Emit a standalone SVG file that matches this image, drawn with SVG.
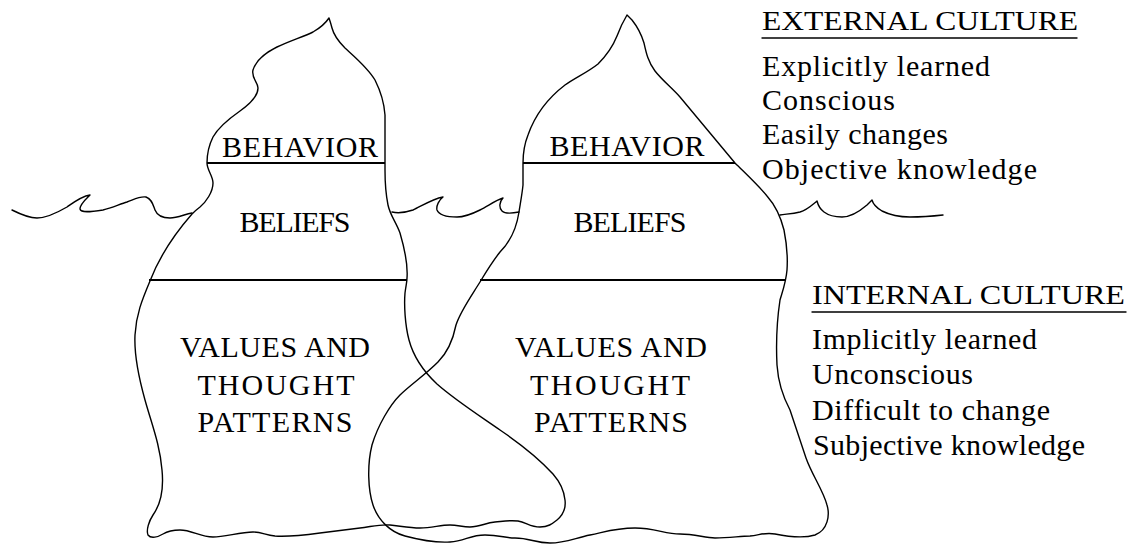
<svg xmlns="http://www.w3.org/2000/svg" width="1131" height="545" viewBox="0 0 1131 545">
<style>
.ln{fill:none;stroke:#000;stroke-width:1.4;stroke-linejoin:round;stroke-linecap:round}
.hl{fill:none;stroke:#000;stroke-width:1.8}
.lb{font-family:"Liberation Serif","Times New Roman",serif;font-size:30px;fill:#000;text-anchor:middle}
.tx{font-family:"Liberation Serif","Times New Roman",serif;font-size:30px;fill:#000}
.hd{font-family:"Liberation Serif","Times New Roman",serif;font-size:27px;fill:#000}
</style>
<rect width="1131" height="545" fill="#fff"/>
<g id="water">
<path class="ln" d="M12,210 C18,213 28,218 37,218 C46,218 55,214 67,207 C74,202 82,196 90,195 C86,199 80,204 80,209 C81,213 90,212 103,210 C112,208 120,204 127,202 C135,199 140,196 146,197 C152,199 153,205 155,210 C157,215 162,218 170,218 C178,218 185,214 192,213"/>
<path class="ln" d="M392,212 C396,213 404,213 413,210 C420,207 432,199 443,197 C439,200 436,206 437,210 C439,215 447,217 457,217 C465,217 472,214 480,210 C488,206 496,200 503,198 C499,202 499,208 502,211 C505,214 514,213 519,212"/>
<path class="ln" d="M780,215 C786,214 792,214 800,212 C807,210 812,205 817,201 C818,205 820,209 824,212 C828,215 834,217 842,217 C850,217 860,211 867,205 C869,203 871,201 872,200 C873,204 877,208 882,211 C890,215 898,217 910,217 C922,217 934,216 943,215"/>
</g>
<g id="iceberg-left">
<path class="ln" d="M329,18 C325,24 320,28 313,32 C305,36 290,41 277,47 C265,53 256,60 253,70 C251,78 258,82 258,88 C258,96 250,104 240,111 C230,118 218,128 213,137 C209,145 207,153 207,163 C207,170 213,176 213,183 C213,192 206,202 200,207 C196,210 194,212 192,214 C178,230 160,255 150,281 C142,300 136,315 135,335 C134,355 138,375 145,400 C152,425 160,445 162,470 C164,490 160,505 153,515 C149,521 146,530 148,535 C151,539 158,537 163,534 C168,531 172,530 180,530 C192,530 200,537 213,537 C225,537 240,532 253,532 C262,532 265,535 275,536 C290,537 305,535 320,533 C335,531 345,530 360,528 C370,527 380,524 390,525 C400,526 410,528 420,528 C432,528 440,525 450,525 C458,525 462,527 470,527 C480,527 485,523 495,522 C505,521 510,520 518,521 C526,522 530,527 540,527 C548,527 552,524 557,520 C563,515 566,508 565,500 C564,490 560,482 553,474 C543,463 525,447 500,430 C480,416 455,400 437,384 C422,370 413,355 409,340 C405,325 404,305 405,293 C406,285 407,282 407,278 C408,265 405,250 400,233 C396,222 390,215 388,205 C386,195 385,185 385,170 L385,115 C384,100 380,90 375,80 C368,68 356,58 345,48 C338,41 334,36 332,28 C331,24 330,21 329,18 Z"/>
<line class="hl" x1="207" y1="163" x2="385" y2="163"/>
<line class="hl" x1="149" y1="280" x2="407" y2="280"/>
<text class="lb" x="300" y="157" textLength="156">BEHAVIOR</text>
<text class="lb" x="295" y="232" textLength="111">BELIEFS</text>
<text class="lb" x="275" y="357" textLength="190">VALUES AND</text>
<text class="lb" x="276" y="395" textLength="157">THOUGHT</text>
<text class="lb" x="275" y="432" textLength="155">PATTERNS</text>
</g>
<g id="iceberg-right">
<path class="ln" d="M627,15 C624,20 620,28 617,36 C613,46 606,56 598,64 C588,72 575,78 565,85 C548,98 535,115 528,135 C524,145 523,155 523,163 L523,185 C522,195 520,205 519,212 C517,225 512,240 500,252 C492,262 486,272 480,282 C470,298 460,312 456,325 C453,340 448,352 438,362 C425,375 410,385 400,395 C390,405 378,425 372,445 C367,465 368,490 373,505 C378,520 390,532 405,536 C420,540 435,543 450,542 C465,541 470,535 485,535 C500,535 505,538 515,538 C530,538 535,543 550,543 C565,543 575,538 590,535 C605,532 615,528 635,528 C655,528 665,534 680,534 C695,534 705,538 715,538 C730,538 740,536 750,536 C760,535 765,532 775,534 C790,537 805,538 815,535 C828,530 830,515 827,505 C823,490 812,475 806,458 C800,440 795,425 790,410 C782,395 778,380 777,365 C776,345 777,320 780,300 C783,290 786,282 787,270 C788,255 786,240 784,230 C781,218 775,205 767,196 C758,185 745,173 735,163 L680,97 C672,88 662,80 655,71 C648,62 646,52 644,43 C641,33 636,25 632,20 C630,18 628,16 627,15 Z"/>
<line class="hl" x1="523" y1="163" x2="735" y2="163"/>
<line class="hl" x1="480" y1="280" x2="786" y2="280"/>
<text class="lb" x="627" y="156" textLength="155">BEHAVIOR</text>
<text class="lb" x="630" y="232" textLength="113">BELIEFS</text>
<text class="lb" x="611" y="357" textLength="192">VALUES AND</text>
<text class="lb" x="610" y="395" textLength="160">THOUGHT</text>
<text class="lb" x="611" y="432" textLength="154">PATTERNS</text>
</g>
<g id="external-culture">
<text class="hd" x="762" y="30" textLength="316" lengthAdjust="spacingAndGlyphs">EXTERNAL CULTURE</text>
<line class="ln" x1="762" y1="38" x2="1077" y2="38"/>
<text class="tx" x="762" y="76" textLength="228">Explicitly learned</text>
<text class="tx" x="762" y="110" textLength="133">Conscious</text>
<text class="tx" x="762" y="144" textLength="186">Easily changes</text>
<text class="tx" x="762" y="179" textLength="275">Objective knowledge</text>
</g>
<g id="internal-culture">
<text class="hd" x="812" y="304" textLength="313" lengthAdjust="spacingAndGlyphs">INTERNAL CULTURE</text>
<line class="ln" x1="812" y1="312" x2="1126" y2="312"/>
<text class="tx" x="812" y="349" textLength="225">Implicitly learned</text>
<text class="tx" x="812" y="384" textLength="161">Unconscious</text>
<text class="tx" x="812" y="420" textLength="238">Difficult to change</text>
<text class="tx" x="813" y="455" textLength="272">Subjective knowledge</text>
</g>
</svg>
